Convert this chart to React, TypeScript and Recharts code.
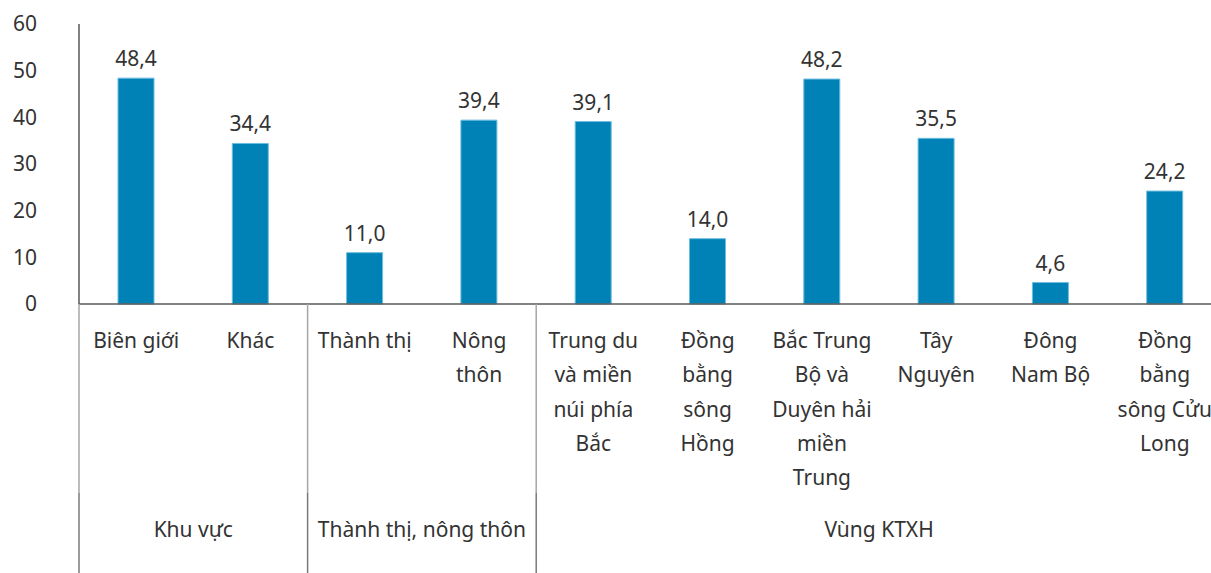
import React from 'react';
import { BarChart, Bar, XAxis, YAxis, LabelList } from 'recharts';

const categories = [
  'Biên giới',
  'Khác',
  'Thành thị',
  'Nông\nthôn',
  'Trung du\nvà miền\nnúi phía\nBắc',
  'Đồng\nbằng\nsông\nHồng',
  'Bắc Trung\nBộ và\nDuyên hải\nmiền\nTrung',
  'Tây\nNguyên',
  'Đông\nNam Bộ',
  'Đồng\nbằng\nsông Cửu\nLong',
];
const values = [48.4, 34.4, 11.0, 39.4, 39.1, 14.0, 48.2, 35.5, 4.6, 24.2];
const groupNames = ['Khu vực', 'Thành thị, nông thôn', 'Vùng KTXH'];
const groupSizes = [2, 2, 6];
const yTicks = [0, 10, 20, 30, 40, 50, 60];

const data = categories.map((c, i) => ({ name: c, value: values[i] }));

const groupStarts: number[] = [];
const groupEnds: number[] = [];
{
  let s = 0;
  groupSizes.forEach((n) => {
    groupStarts.push(s);
    groupEnds.push(s + n - 1);
    s += n;
  });
}

const TEXT = '#333333';
const FONT = 21;

const CategoryTick = (props: any) => {
  const { x, y, payload, index } = props;
  const half: number = payload && payload.offset ? payload.offset : 57;
  const lines = String(payload.value).split('\n');
  const elems: any[] = [];
  const gs = groupStarts.indexOf(index);
  if (gs >= 0) {
    const dx = x - half;
    elems.push(<line key="d1" x1={dx} x2={dx} y1={y} y2={y + 189} stroke="#a6a6a6" strokeWidth={1.5} />);
    elems.push(<line key="d2" x1={dx} x2={dx} y1={y + 189} y2={y + 280} stroke="#7a7a7a" strokeWidth={1.5} />);
  }
  const ge = groupEnds.indexOf(index);
  if (ge >= 0) {
    if (ge === groupEnds.length - 1) {
      const dx = x + half;
      elems.push(<line key="d3" x1={dx} x2={dx} y1={y} y2={y + 189} stroke="#a6a6a6" strokeWidth={1.5} />);
      elems.push(<line key="d4" x1={dx} x2={dx} y1={y + 189} y2={y + 280} stroke="#7a7a7a" strokeWidth={1.5} />);
    }
    const cx = x - (groupSizes[ge] - 1) * half;
    elems.push(
      <text key="g" x={cx} y={y + 233} textAnchor="middle" fill={TEXT} fontSize={FONT}>
        {groupNames[ge]}
      </text>
    );
  }
  lines.forEach((ln, i) => {
    elems.push(
      <text key={'l' + i} x={x} y={y + 44 + i * 34.3} textAnchor="middle" fill={TEXT} fontSize={FONT}>
        {ln}
      </text>
    );
  });
  return <g>{elems}</g>;
};

const fmt = (v: any) => Number(v).toFixed(1).replace('.', ',');

export default function App() {
  return (
    <div
      style={{
        position: 'absolute',
        left: 0,
        top: 0,
        width: 1211,
        height: 573,
        overflow: 'hidden',
        background: '#ffffff',
        fontFamily: "'Noto Sans', sans-serif",
      }}
    >
      <BarChart
        width={1230}
        height={573}
        data={data}
        margin={{ top: 24, right: 8, left: 0, bottom: 0 }}
      >
        <YAxis
          domain={[0, 60]}
          ticks={yTicks}
          width={79}
          tickSize={0}
          tickMargin={42}
          tickLine={false}
          axisLine={{ stroke: '#595959', strokeWidth: 1.5 }}
          tick={{ fill: TEXT, fontSize: FONT }}
          interval={0}
        />
        <XAxis
          dataKey="name"
          height={269}
          interval={0}
          tickSize={0}
          tickMargin={0}
          tickLine={false}
          axisLine={{ stroke: '#595959', strokeWidth: 1.5 }}
          tick={<CategoryTick />}
        />
        <Bar dataKey="value" fill="#0082b6" stroke="#6cbde0" strokeWidth={1} barSize={36} isAnimationActive={false}>
          <LabelList dataKey="value" position="top" offset={12} formatter={fmt} fill={TEXT} fontSize={FONT} />
        </Bar>
      </BarChart>
    </div>
  );
}
